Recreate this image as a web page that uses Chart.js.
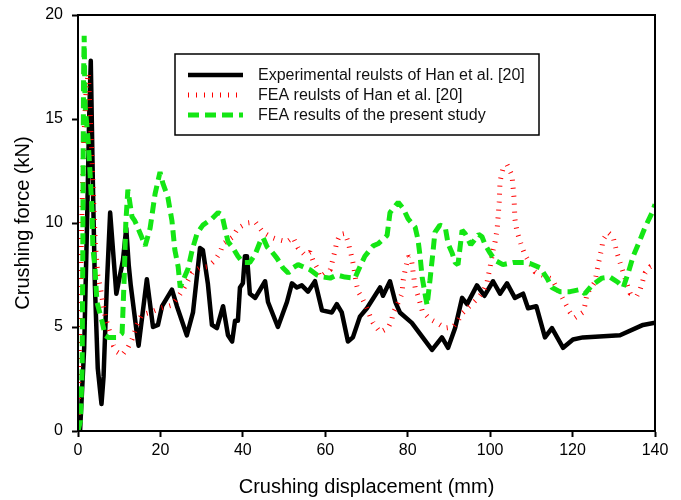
<!DOCTYPE html>
<html>
<head>
<meta charset="utf-8">
<title>Crushing force vs displacement</title>
<script src="https://cdn.jsdelivr.net/npm/chart.js@4.4.1/dist/chart.umd.min.js"></script>
<style>
  html, body { margin: 0; padding: 0; background: #ffffff; }
  canvas { display: block; }
</style>
</head>
<body>
<canvas id="chart" width="681" height="500"></canvas>
<script>
// Force–displacement curves, [displacement (mm), force (kN)]
const experimentalHan = [
  [0.5,0],[1.5,4],[2.2,10],[2.7,15],[3.1,17.8],[3.6,12],[4.1,7],[4.8,3],[5.7,1.3],[6.2,2.6],
  [7.0,7.0],[7.8,10.5],[9.3,6.6],[10.9,8.2],[11.7,9.75],[12.3,8.0],[12.8,7.0],[14.4,4.5],[14.7,4.1],
  [16.7,7.3],[18.2,5.0],[19.4,5.1],[20.4,6.0],[22.8,6.8],[24.0,6.0],[26.4,4.6],[27.9,5.7],[29.6,8.8],
  [30.3,8.7],[31.5,7.1],[32.5,5.1],[33.7,4.95],[35.2,6.0],[36.4,4.6],[37.4,4.3],[38.1,5.3],[38.8,5.3],
  [39.3,6.9],[40.0,7.1],[40.5,8.4],[41.0,8.4],[41.7,6.6],[43.0,6.4],[45.4,7.2],[46.1,6.2],[48.5,5.0],
  [50.7,6.2],[51.9,7.1],[53.1,6.9],[54.3,7.0],[55.8,6.7],[57.5,7.2],[59.2,5.8],[61.6,5.7],[62.8,6.1],
  [64.0,5.7],[65.5,4.3],[66.7,4.5],[68.4,5.5],[70.1,5.9],[73.3,6.9],[74.0,6.5],[75.7,7.2],[77.0,6.2],
  [78.1,5.7],[81.0,5.2],[85.9,3.9],[88.3,4.5],[89.8,4.0],[91.5,4.95],[93.2,6.4],[94.4,6.1],[96.8,7.0],
  [98.6,6.5],[100.7,7.2],[102.4,6.6],[104.1,7.1],[106.0,6.4],[108.0,6.6],[109.2,5.9],[111.2,6.0],
  [113.3,4.5],[115.0,4.95],[117.7,4.0],[120.1,4.4],[122.5,4.5],[131.5,4.6],[137.1,5.1],[140,5.2]
];

const feaHan = [
  [0,0],[0.4,5],[0.9,10],[1.4,14],[2.0,16.5],[2.5,17.2],[3.0,15],[3.6,12],[4.2,9],[4.8,7.5],
  [5.5,6.8],[6.6,5.5],[7.8,4.7],[8.6,4.1],[9.5,3.8],[10.7,3.65],[12.1,4.0],[13.1,4.4],[14.3,5.1],
  [15.5,5.6],[17.5,5.7],[20.0,5.9],[22.8,6.05],[24.3,6.45],[25.5,6.8],[27.7,7.6],[29.6,7.85],[31.5,7.9],
  [33.2,8.2],[34.5,8.6],[35.2,9.0],[37.4,9.3],[38.8,9.75],[41.0,10.0],[43.0,10.05],[44.9,9.55],[47.1,9.3],
  [48.5,9.2],[50.7,9.1],[52.2,9.3],[53.4,8.8],[55.1,8.45],[56.3,8.6],[57.0,8.2],[58.0,7.85],[58.7,7.4],
  [61.2,7.75],[61.9,8.3],[62.4,8.7],[62.8,9.1],[63.6,9.45],[64.8,9.5],[65.5,9.1],[66.0,8.7],[66.5,8.3],
  [66.9,7.9],[67.5,7.1],[68.0,6.7],[68.9,6.4],[70.1,5.9],[70.9,5.5],[71.6,5.2],[73.3,4.75],[75.2,4.95],
  [76.1,5.3],[76.4,5.65],[77.4,6.05],[78.6,6.6],[78.9,7.25],[79.3,7.65],[79.8,8.1],[80.2,8.4],[80.7,8.3],
  [81.0,8.1],[81.5,7.35],[81.8,6.9],[82.5,6.5],[83.0,6.15],[83.5,5.8],[85.2,5.4],[87.1,5.2],[89.1,4.95],
  [91.0,5.0],[92.2,5.3],[93.2,5.65],[97.1,6.4],[98.3,6.7],[99.2,7.1],[100.0,7.9],[100.7,8.7],[101.2,9.1],
  [101.7,9.7],[102.2,11.0],[102.4,12.0],[103.1,12.6],[104.1,12.8],[105.3,12.3],[105.8,11.2],[106.0,10.2],
  [106.5,9.6],[107.7,8.85],[108.5,8.45],[110.9,7.65],[115.0,7.3],[117.4,6.45],[119.4,5.7],[120.6,5.45],
  [122.5,5.7],[123.0,6.05],[123.5,6.6],[125.4,7.15],[126.2,8.0],[127.1,8.8],[127.4,9.2],[128.6,9.55],
  [129.8,9.35],[130.8,8.55],[132.0,7.8],[133.3,7.0],[134.0,6.6],[135.6,6.5],[136.4,6.8],[137.6,7.6],
  [138.8,7.9],[140,8.0]
];

const feaPresent = [
  [0,0],[0.6,0.5],[1.0,3],[1.15,8],[1.25,13],[1.35,17],[1.5,19.0],[1.7,15.7],[2.4,14.1],[2.9,12.5],
  [3.4,10.6],[3.6,8.8],[4.1,7.9],[4.6,6.2],[5.8,5.3],[6.6,4.6],[7.3,4.5],[9.5,4.5],[10.7,4.7],[11.2,7.3],
  [11.6,10.0],[12.1,11.6],[13.1,10.3],[13.8,10.1],[15.5,9.3],[16.3,8.9],[17.5,9.75],[18.7,11.4],
  [19.9,12.45],[20.6,11.9],[21.8,11.25],[22.8,10.1],[23.5,8.7],[24.3,7.9],[24.8,6.9],[25.5,7.25],
  [26.7,7.8],[27.7,8.7],[28.9,9.5],[30.3,9.9],[32.5,10.2],[34.0,10.5],[34.9,10.4],[35.7,9.7],[36.4,9.1],
  [37.6,8.8],[38.8,8.4],[40.0,8.1],[41.7,8.1],[43.0,8.5],[44.2,9.1],[44.9,9.3],[45.9,8.85],[47.1,8.6],
  [48.3,8.3],[49.7,7.85],[51.0,7.6],[52.2,7.85],[53.4,8.0],[54.6,7.9],[56.3,7.75],[58.0,7.5],[59.5,7.4],
  [61.2,7.35],[62.8,7.5],[64.8,7.4],[67.2,7.35],[68.4,7.9],[69.6,8.4],[71.6,8.9],[72.8,9.0],[75.0,9.4],
  [75.7,10.5],[77.7,11.0],[78.9,10.7],[80.1,10.2],[81.8,9.8],[82.5,9.2],[83.0,8.4],[83.5,7.4],[84.2,6.6],
  [84.7,6.05],[85.4,7.25],[86.1,8.55],[86.6,9.55],[87.8,9.9],[89.1,9.8],[89.8,9.0],[90.8,8.55],[91.5,8.1],
  [92.2,8.0],[93.2,9.65],[93.9,9.5],[95.3,8.95],[97.2,9.45],[98.0,9.35],[98.8,8.95],[100.0,8.55],
  [101.2,8.2],[103.1,8.0],[105.6,8.1],[108.5,8.1],[109.7,8.05],[112.1,7.85],[113.8,7.35],[115.0,6.9],
  [116.9,6.7],[119.4,6.7],[121.8,6.8],[123.0,6.6],[124.7,7.0],[127.1,7.35],[129.1,7.4],[131.0,7.15],
  [132.3,6.9],[133.5,7.6],[134.7,8.4],[136.4,9.2],[137.6,9.8],[139.3,10.5],[140,10.9]
];

const seriesLabels = [
  'Experimental reulsts of Han et al. [20]',
  'FEA reulsts of Han et al. [20]',
  'FEA results of the present study'
];

const FONT = '"Liberation Sans", Arial, Helvetica, sans-serif';
const GREEN = '#14e614';

const toPoints = arr => arr.map(([x, y]) => ({ x, y }));

// Closed frame around the plotting area
const framePlugin = {
  id: 'frame',
  afterDatasetsDraw(chart) {
    const { ctx, chartArea: a } = chart;
    ctx.save();
    ctx.strokeStyle = '#000';
    ctx.lineWidth = 2;
    ctx.strokeRect(a.left, a.top, a.right - a.left, a.bottom - a.top);
    ctx.restore();
  }
};

// Boxed legend placed inside the plotting area
const boxLegendPlugin = {
  id: 'boxLegend',
  afterDraw(chart) {
    const { ctx } = chart;
    const box = { x: 175, y: 54, w: 364, h: 81 };
    ctx.save();
    ctx.fillStyle = '#fff';
    ctx.fillRect(box.x, box.y, box.w, box.h);
    ctx.strokeStyle = '#000';
    ctx.lineWidth = 1.5;
    ctx.strokeRect(box.x, box.y, box.w, box.h);
    const rows = [75, 95, 115];
    chart.data.datasets.forEach((ds, i) => {
      const y = rows[i];
      ctx.save();
      ctx.strokeStyle = ds.borderColor;
      ctx.lineWidth = ds.borderWidth;
      ctx.lineCap = 'butt';
      ctx.setLineDash(ds.borderDash || []);
      ctx.beginPath();
      ctx.moveTo(188, y);
      ctx.lineTo(243, y);
      ctx.stroke();
      ctx.restore();
      ctx.fillStyle = '#111';
      ctx.font = '16px ' + FONT;
      ctx.textBaseline = 'middle';
      ctx.textAlign = 'left';
      ctx.fillText(ds.label, 258, y + 1);
    });
    ctx.restore();
  }
};

const axisCommon = {
  type: 'linear',
  grid: {
    drawOnChartArea: false,
    drawTicks: true,
    tickLength: 6,
    tickWidth: 2,
    tickColor: '#000'
  },
  border: { display: true, color: '#000', width: 2 }
};

new Chart(document.getElementById('chart'), {
  type: 'line',
  data: {
    datasets: [
      {
        label: seriesLabels[0],
        data: toPoints(experimentalHan),
        borderColor: '#000',
        borderWidth: 4.5,
        borderJoinStyle: 'round',
        pointRadius: 0,
        tension: 0,
        order: 3
      },
      {
        label: seriesLabels[1],
        data: toPoints(feaHan),
        borderColor: '#ff0000',
        borderWidth: 5,
        borderDash: [1, 7],
        borderCapStyle: 'butt',
        borderJoinStyle: 'bevel',
        pointRadius: 0,
        tension: 0,
        order: 2
      },
      {
        label: seriesLabels[2],
        data: toPoints(feaPresent),
        borderColor: GREEN,
        borderWidth: 5,
        borderDash: [11, 6],
        borderCapStyle: 'butt',
        borderJoinStyle: 'bevel',
        pointRadius: 0,
        tension: 0,
        order: 1
      }
    ]
  },
  options: {
    responsive: false,
    devicePixelRatio: 1,
    animation: false,
    layout: { padding: { top: 15, right: 26, left: 0, bottom: 0 } },
    plugins: {
      legend: { display: false },
      tooltip: { enabled: false }
    },
    scales: {
      x: {
        ...axisCommon,
        min: 0,
        max: 140,
        ticks: { stepSize: 20, color: '#000', padding: 4, font: { family: FONT, size: 16 } },
        title: {
          display: true,
          text: 'Crushing displacement (mm)',
          color: '#000',
          font: { family: FONT, size: 20 },
          padding: { top: 0, bottom: 1 }
        },
        afterFit(scale) {
          scale.height = 69;
          scale.paddingLeft = 0;
          scale.paddingRight = 0;
        }
      },
      y: {
        ...axisCommon,
        min: 0,
        max: 20,
        ticks: { stepSize: 5, color: '#000', padding: 9, font: { family: FONT, size: 16 } },
        title: {
          display: true,
          text: 'Crushing force (kN)',
          color: '#000',
          font: { family: FONT, size: 20 },
          padding: { top: 11, bottom: 0 }
        },
        afterFit(scale) {
          scale.width = 78;
          scale.paddingTop = 0;
          scale.paddingBottom = 0;
        }
      }
    }
  },
  plugins: [framePlugin, boxLegendPlugin]
});
</script>
</body>
</html>
